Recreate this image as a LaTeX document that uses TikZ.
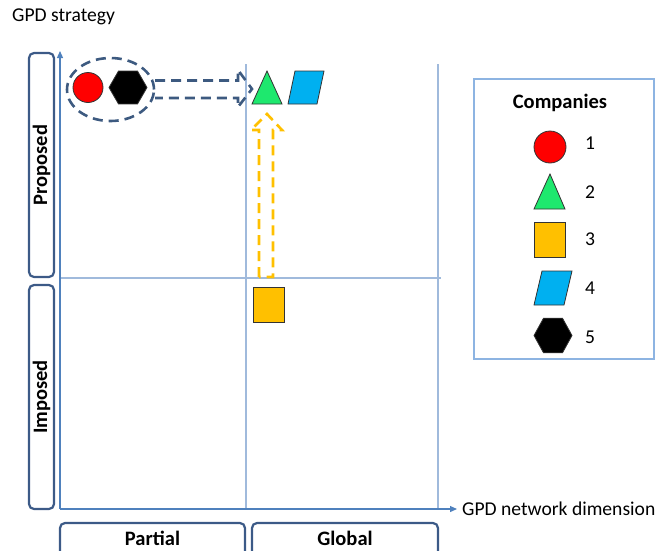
\documentclass[tikz,border=0pt]{standalone}
\usepackage{fontspec}
\setmainfont{Carlito}
\usetikzlibrary{arrows.meta,shapes.geometric}
\definecolor{boxblue}{HTML}{3C5A87}
\definecolor{axisblue}{HTML}{4F81BD}
\definecolor{gridblue}{HTML}{A0BADC}
\definecolor{legblue}{HTML}{8DB4E2}
\definecolor{arrblue}{HTML}{3D5A80}
\definecolor{cyellow}{HTML}{FFC000}
\definecolor{cgreen}{RGB}{30,232,110}
\definecolor{ccyan}{HTML}{00B0F0}
\tikzset{
  lab/.style={font=\fontsize{19.6}{23}\selectfont, inner sep=0},
  blab/.style={font=\fontsize{20.5}{24}\selectfont\bfseries, inner sep=0},
  catbox/.style={draw=boxblue, line width=2.2pt, rounded corners=5pt},
  gridline/.style={draw=gridblue, line width=1.1pt},
  axisline/.style={draw=axisblue, line width=1.2pt, -{Triangle[length=7pt,width=6pt]}},
  shp/.style={draw=black!80, line width=0.8pt},
  bluedash/.style={draw=arrblue, line width=2.6pt, dash pattern=on 10pt off 6pt},
  yeldash/.style={draw=cyellow, line width=2.6pt, dash pattern=on 10pt off 6pt},
}
\begin{document}
\begin{tikzpicture}[x=1pt,y=-1pt]
\useasboundingbox (0,0) rectangle (656,550);
\clip (0,0) rectangle (656,550);
% grid
\draw[gridline] (246,64) -- (246,509);
\draw[gridline] (438,64) -- (438,509);
\draw[gridline] (60,278) -- (441,278);
% axes
\coordinate (O) at (60,509);
\coordinate (ytop) at (60,51);
\coordinate (xend) at (457,509);
\draw[axisline] (O) -- (ytop);
\draw[axisline] (O) -- (xend);
\node[lab, anchor=west] (ytitle) at (12,17) {GPD strategy};
\node[lab, anchor=west] (xtitle) at (462,509) {GPD network dimension};
% category boxes
\draw[catbox] (29,53) rectangle (54,277);
\node[blab, rotate=90] (prop) at (41.5,165) {Proposed};
\draw[catbox] (29,285) rectangle (54,509);
\node[blab, rotate=90] (imp) at (41.5,397) {Imposed};
\draw[catbox] (60,523) rectangle (245,575);
\node[blab, anchor=base, text depth=0pt] (part) at (152.5,545) {Partial};
\draw[catbox] (252,523) rectangle (438,575);
\node[blab, anchor=base, text depth=0pt] (glob) at (345,545) {Global};
% companies in chart
\node[ellipse, bluedash, minimum width=87pt, minimum height=63pt, inner sep=0] (ell) at (110.5,89.5) {};
\node[circle, shp, fill=red, minimum size=30pt, inner sep=0] (c1) at (88,87.5) {};
\node[regular polygon, regular polygon sides=6, shp, fill=black, minimum size=38pt, inner sep=0] (c5) at (128,87.5) {};
\draw[shp, fill=cgreen] (252,104) -- (267,71) -- (282,104) -- cycle;
\coordinate (c2) at (267,88);
\draw[shp, fill=ccyan] (295,71) -- (324,71) -- (317,104) -- (288,104) -- cycle;
\node[rectangle, shp, fill=cyellow, minimum width=31pt, minimum height=35pt, inner sep=0] (c3) at (268.5,304.5) {};
% block arrows
\draw[bluedash] (155,80.5) -- (238,80.5) -- (238,70) -- (252,89) -- (238,107) -- (238,98) -- (155,98);
\draw[yeldash] (259,277) -- (259,130) -- (251,130) -- (267,114) -- (282,130) -- (273,130) -- (273,277) -- cycle;
% legend
\draw[draw=legblue, line width=1.5pt] (474,79) rectangle (654,359);
\node[blab] (leg) at (560,103) {Companies};
\node[circle, shp, fill=red, minimum size=32pt, inner sep=0] (l1) at (550,147) {};
\draw[shp, fill=cgreen] (534,209) -- (550,174) -- (565,209) -- cycle;
\node[rectangle, shp, fill=cyellow, minimum width=31pt, minimum height=35pt, inner sep=0] (l3) at (549.5,239.5) {};
\draw[shp, fill=ccyan] (542,271) -- (572,271) -- (564,305) -- (534,305) -- cycle;
\node[regular polygon, regular polygon sides=6, shp, fill=black, minimum size=38pt, inner sep=0, yscale=1.05] (l5) at (553,335.5) {};
\node[lab] (n1) at (590,143) {1};
\node[lab] (n2) at (590,192) {2};
\node[lab] (n3) at (590,239) {3};
\node[lab] (n4) at (590,288) {4};
\node[lab] (n5) at (590,337) {5};
\end{tikzpicture}
\end{document}
